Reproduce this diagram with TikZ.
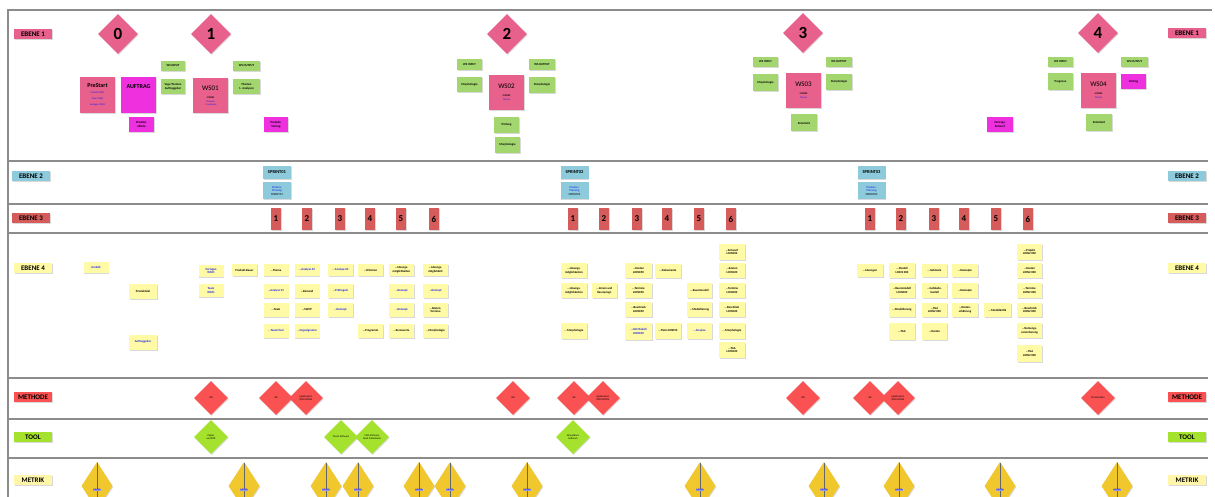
\documentclass[tikz,border=0pt]{standalone}
\usepackage{fontspec}
\setmainfont{Carlito}
\usepackage{tikz}
\usepackage{xcolor}
\usetikzlibrary{shapes}
\usetikzlibrary{shadows}

\definecolor{wspink}{RGB}{232,96,140}
\definecolor{auftragmag}{RGB}{238,48,222}
\definecolor{notegreen}{RGB}{163,214,110}
\definecolor{sprintblue}{RGB}{140,202,220}
\definecolor{taskred}{RGB}{214,92,92}
\definecolor{noteyellow}{RGB}{255,250,165}
\definecolor{methred}{RGB}{250,82,82}
\definecolor{toolgreen}{RGB}{165,226,45}
\definecolor{metrikgold}{RGB}{240,200,45}
\definecolor{metrikpale}{RGB}{255,246,170}
\definecolor{metriktag}{RGB}{150,150,235}
\definecolor{linkblue}{RGB}{30,30,235}
\definecolor{framegray}{RGB}{140,140,140}

\newcommand{\lnk}[1]{\textcolor{linkblue}{#1}}

\begin{document}
\begin{tikzpicture}[x=1pt, y=-1pt,
	every node/.style={inner sep=0pt, align=center},
	shd/.style={drop shadow={shadow xshift=0.8pt, shadow yshift=-1pt, opacity=0.3}},
	sepline/.style={framegray, line width=1.4pt},
	ebene/.style={shd, minimum width=38, minimum height=10, font=\fontsize{7}{8}\selectfont\bfseries},
	phase/.style={diamond, shd, fill=wspink, minimum width=40, minimum height=40, font=\fontsize{17}{17}\selectfont\bfseries},
	wsbox/.style={shd, fill=wspink, minimum width=35, minimum height=35, font=\fontsize{2.5}{3}\selectfont},
	note/.style={shd, minimum width=25, minimum height=14, font=\fontsize{3}{3.6}\selectfont\bfseries},
	gnote/.style={note, fill=notegreen},
	mnote/.style={note, fill=auftragmag},
	ynote/.style={note, fill=noteyellow},
	sprint/.style={shd, fill=sprintblue, minimum width=28, font=\fontsize{4.5}{5}\selectfont\bfseries},
	task/.style={shd, fill=taskred, minimum width=10, minimum height=21, font=\fontsize{9}{8}\selectfont\bfseries},
	meth/.style={diamond, shd, fill=methred, minimum width=34, minimum height=34, font=\fontsize{2.6}{3}\selectfont},
	tool/.style={diamond, shd, fill=toolgreen, minimum width=34, minimum height=34, font=\fontsize{2.6}{3}\selectfont},
	mtag/.style={fill=metriktag, yshift=-4pt, inner sep=0.4pt, font=\fontsize{2.5}{3}\selectfont\bfseries, text=linkblue},
	metrik/.style={diamond, shd, fill=metrikgold, minimum width=31, minimum height=48,
		path picture={\draw[black!60, line width=0.4pt] (path picture bounding box.north) -- (path picture bounding box.south);},
		label={[mtag]center:Metrik}}]
	\useasboundingbox (0,0) rectangle (1215,497);
	% frame and lane lines
	\draw[sepline] (8,497) -- (8,10) -- (1212,10);
	\draw[sepline] (8,161) -- (1208,161);
	\draw[sepline] (8,204) -- (1208,204);
	\draw[sepline] (8,233) -- (1208,233);
	\draw[sepline] (8,378) -- (1208,378);
	\draw[sepline] (8,419) -- (1208,419);
	\draw[sepline] (8,458) -- (1208,458);
	% lane labels
	\node[ebene, fill=wspink] (e1l) at (33,34) {EBENE 1};
	\node[ebene, fill=wspink] (e1r) at (1187,33) {EBENE 1};
	\node[ebene, fill=sprintblue] (e2l) at (31,176) {EBENE 2};
	\node[ebene, fill=sprintblue] (e2r) at (1187,176) {EBENE 2};
	\node[ebene, fill=taskred] (e3l) at (31,218) {EBENE 3};
	\node[ebene, fill=taskred] (e3r) at (1187,218) {EBENE 3};
	\node[ebene, fill=noteyellow] (e4l) at (33,268) {EBENE 4};
	\node[ebene, fill=noteyellow] (e4r) at (1187,268) {EBENE 4};
	\node[ebene, fill=methred] (mel) at (33,397) {METHODE};
	\node[ebene, fill=methred] (mer) at (1187,397) {METHODE};
	\node[ebene, fill=toolgreen] (tol) at (33,437) {TOOL};
	\node[ebene, fill=toolgreen] (tor) at (1187,437) {TOOL};
	\node[ebene, fill=metrikpale] (mtl) at (33,480) {METRIK};
	\node[ebene, fill=metrikpale] (mtr) at (1187,480) {METRIK};
	% ebene 1: phases
	\node[phase] (ph0) at (118,34) {0};
	\node[phase] (ph1) at (211,34) {1};
	\node[phase] (ph2) at (507,34) {2};
	\node[phase] (ph3) at (803,33) {3};
	\node[phase] (ph4) at (1098,33) {4};
	% ebene 1: start and WS01
	\node[wsbox, minimum height=36] (prestart) at (97.5,95) {{\fontsize{6}{7}\selectfont\bfseries PreStart}\\[3pt]\lnk{Umfeld WS01}\\[3pt]\lnk{Team WS01}\\[3pt]\lnk{Vorlagen WS01}};
	\node[wsbox, minimum height=36, fill=auftragmag] (auftrag) at (138.5,95) {{\fontsize{6}{7}\selectfont\bfseries AUFTRAG}\\[14pt]};
	\node[mnote, minimum width=25, minimum height=15] (offerte) at (141.5,124.5) {Produkt-\\offerte};
	\node[gnote, minimum width=24, minimum height=10] (wsin1) at (173,66) {WS INPUT};
	\node[gnote, minimum width=24, minimum height=15] (in1) at (173,86.5) {Vage Themen\\Auftraggeber};
	\node[wsbox] (ws01) at (210.5,95.5) {{\fontsize{7}{8}\selectfont WS01}\\[5pt]\textbf{1 WS01}\\[1pt]\lnk{Themen}\\\lnk{1. Analysen}};
	\node[gnote, minimum width=27, minimum height=10] (wsout1) at (246.5,66) {WS OUTPUT};
	\node[gnote, minimum width=27, minimum height=15] (out1) at (246.5,86.5) {Themen\\1. Analysen};
	\node[mnote, minimum width=24, minimum height=15] (vortrag1) at (276,124.5) {Produkt-\\Vortrag};
	% ebene 1: WS02
	\node[gnote, minimum height=11] (wsin2) at (469.5,64.5) {WS INPUT};
	\node[gnote, minimum height=15] (in2) at (469.5,84.5) {Morphologie};
	\node[wsbox] (ws02) at (506.5,92.5) {{\fontsize{7}{8}\selectfont WS02}\\[5pt]\textbf{2 WS02}\\[1pt]\lnk{Thema}};
	\node[gnote, minimum width=26, minimum height=11] (wsout2) at (542,64.5) {WS OUTPUT};
	\node[gnote, minimum width=26, minimum height=16] (out2) at (542,85) {Morphologie};
	\node[gnote, minimum height=16] (pruef2) at (506.5,125) {Prüfung};
	\node[gnote, minimum height=16] (morph2) at (507.5,145) {Morphologie};
	% ebene 1: WS03
	\node[gnote, minimum height=10] (wsin3) at (765.5,62) {WS INPUT};
	\node[gnote, minimum height=17] (in3) at (765.5,82.5) {Morphologie};
	\node[wsbox] (ws03) at (803.5,90.5) {{\fontsize{7}{8}\selectfont WS03}\\[5pt]\textbf{3 WS03}\\[1pt]\lnk{Thema}};
	\node[gnote, minimum width=26, minimum height=10] (wsout3) at (839,62) {WS OUTPUT};
	\node[gnote, minimum width=26, minimum height=16] (out3) at (839,82) {Morphologie};
	\node[gnote, minimum width=26, minimum height=17] (entsch3) at (804,123) {Entscheid};
	% ebene 1: WS04
	\node[gnote, minimum height=10] (wsin4) at (1060.5,62) {WS INPUT};
	\node[gnote, minimum height=17] (in4) at (1060.5,81.5) {Prognose};
	\node[wsbox] (ws04) at (1098.5,90.5) {{\fontsize{7}{8}\selectfont WS04}\\[5pt]\textbf{4 WS04}\\[1pt]\lnk{Thema}};
	\node[gnote, minimum width=27, minimum height=10] (wsout4) at (1134.5,62) {WS OUTPUT};
	\node[mnote, minimum height=15] (vortrag4) at (1133.5,81.5) {Vortrag};
	\node[gnote, minimum width=26, minimum height=17] (entsch4) at (1099,122.5) {Entscheid};
	\node[mnote, minimum width=26, minimum height=15] (entwurf4) at (1000,124.5) {Vortrags-\\Entwurf};
	% ebene 2: sprints
	\node[sprint, minimum height=13] (sp1) at (277,172.5) {SPRINT01};
	\node[sprint, minimum height=17, font=\fontsize{3}{3.6}\selectfont] (pl1) at (277,191) {\lnk{Prozess-}\\\lnk{Planung}\\SPRINT01};
	\node[sprint, minimum height=13] (sp2) at (574.5,172.5) {SPRINT02};
	\node[sprint, minimum height=17, font=\fontsize{3}{3.6}\selectfont] (pl2) at (574.5,191) {\lnk{Prozess-}\\\lnk{Planung}\\SPRINT02};
	\node[sprint, minimum height=13] (sp3) at (871.5,172.5) {SPRINT03};
	\node[sprint, minimum height=17, font=\fontsize{3}{3.6}\selectfont] (pl3) at (871.5,191) {\lnk{Prozess-}\\\lnk{Planung}\\SPRINT03};
	% ebene 3: six steps per sprint
	\node[task] (t11) at (276,219) {1};
	\node[task] (t12) at (307,219) {2};
	\node[task] (t13) at (340,219) {3};
	\node[task] (t14) at (370,219) {4};
	\node[task] (t15) at (401,219) {5};
	\node[task] (t16) at (434,219) {6};
	\node[task] (t21) at (573,219) {1};
	\node[task] (t22) at (604,219) {2};
	\node[task] (t23) at (637,219) {3};
	\node[task] (t24) at (667,219) {4};
	\node[task] (t25) at (699,219) {5};
	\node[task] (t26) at (731,219) {6};
	\node[task] (t31) at (870,219) {1};
	\node[task] (t32) at (901,219) {2};
	\node[task] (t33) at (934,219) {3};
	\node[task] (t34) at (964,219) {4};
	\node[task] (t35) at (996,219) {5};
	\node[task] (t36) at (1028,219) {6};
	% ebene 4: before sprint 1
	\node[ynote, minimum height=11] (s0a) at (96,267) {\lnk{Umfeld}};
	\node[ynote, minimum width=28, minimum height=15] (s0b) at (143,291) {Produktziel};
	\node[ynote, minimum width=28, minimum height=15] (s0c) at (143,342) {\lnk{Auftraggeber}};
	\node[ynote, minimum height=12] (s0d) at (211,271) {\lnk{Vorlagen}\\\lnk{WS01}};
	\node[ynote, minimum height=13] (s0e) at (211,290.5) {\lnk{Team}\\\lnk{WS01}};
	\node[ynote, minimum height=12] (s0f) at (244.5,270) {Produkt-Bauer};
	% ebene 4: sprint 1
	\node[ynote, minimum height=12] (s1a1) at (276,270) {...Thema};
	\node[ynote] (s1a2) at (276,291) {\lnk{...Analyse 01}};
	\node[ynote] (s1a3) at (276,310) {...Team};
	\node[ynote] (s1a4) at (276,331) {\lnk{...Team/Tool}};
	\node[ynote, minimum height=12] (s1b1) at (307,270) {\lnk{...Analyse 02}};
	\node[ynote] (s1b2) at (307,291) {...Bestand};
	\node[ynote] (s1b3) at (307,310) {...SWOT};
	\node[ynote] (s1b4) at (307,331) {\lnk{...Organigramm}};
	\node[ynote, minimum height=12] (s1c1) at (340.5,270) {\lnk{...Analyse 03}};
	\node[ynote] (s1c2) at (340.5,291) {\lnk{...Prüfregeln}};
	\node[ynote] (s1c3) at (340.5,310) {\lnk{...Konzept}};
	\node[ynote, minimum height=12] (s1d1) at (370.5,270) {...Kriterien};
	\node[ynote] (s1d4) at (370.5,331) {...Programm};
	\node[ynote, minimum height=12] (s1e1) at (401.5,270) {...Lösungs-\\möglichkeiten};
	\node[ynote] (s1e2) at (401.5,291) {\lnk{...Konzept}};
	\node[ynote] (s1e3) at (401.5,310) {\lnk{...Konzept}};
	\node[ynote] (s1e4) at (401.5,331) {...Kennwerte};
	\node[ynote, minimum height=12] (s1f1) at (435.5,270) {...Lösungs-\\möglichkeit};
	\node[ynote] (s1f2) at (435.5,291) {\lnk{...Konzept}};
	\node[ynote] (s1f3) at (435.5,310) {...Kosten-\\Termine};
	\node[ynote] (s1f4) at (435.5,331) {...Morphologie};
	% ebene 4: sprint 2
	\node[ynote, minimum width=26, minimum height=15] (s2a1) at (574,270.5) {...Lösungs-\\möglichkeiten};
	\node[ynote, minimum width=26, minimum height=15] (s2a2) at (574,290.5) {...Lösungs-\\möglichkeiten};
	\node[ynote, minimum width=26, minimum height=16] (s2a4) at (574,331) {...Morphologie};
	\node[ynote, minimum height=15] (s2b2) at (604.5,290.5) {...Zonen und\\Raumprogr.};
	\node[ynote, minimum width=27, minimum height=15] (s2c1) at (638.5,270.5) {...Kosten\\LOIN050};
	\node[ynote, minimum width=27, minimum height=15] (s2c2) at (638.5,290.5) {...Termine\\LOIN050};
	\node[ynote, minimum width=27, minimum height=15] (s2c3) at (638.5,309.5) {...Beschrieb\\LOIN050};
	\node[ynote, minimum width=27, minimum height=17] (s2c4) at (638.5,331.5) {\lnk{...LOI Modell}\\\lnk{LOIN050}};
	\node[ynote, minimum width=26] (s2d1) at (668,270.5) {...Dokumente};
	\node[ynote, minimum width=26, minimum height=16] (s2d4) at (668,331) {...TGA LOIN050};
	\node[ynote, minimum width=25, minimum height=15] (s2e2) at (699.5,290.5) {...Raummodell};
	\node[ynote, minimum width=25, minimum height=15] (s2e3) at (699.5,309.5) {...Modellierung};
	\node[ynote, minimum width=25, minimum height=16] (s2e4) at (699.5,331) {\lnk{...Analyse}};
	\node[ynote, minimum width=26, minimum height=16] (s2f0) at (732,252) {...Entwurf\\LOIN100};
	\node[ynote, minimum width=26, minimum height=15] (s2f1) at (732,270.5) {...Kosten\\LOIN100};
	\node[ynote, minimum width=26, minimum height=15] (s2f2) at (732,290.5) {...Termine\\LOIN100};
	\node[ynote, minimum width=26, minimum height=15] (s2f3) at (732,309.5) {...Beschrieb\\LOIN100};
	\node[ynote, minimum width=26, minimum height=16] (s2f4) at (732,331) {...Morphologie};
	\node[ynote, minimum width=26, minimum height=16] (s2f5) at (732,350) {...TGA\\LOIN100};
	% ebene 4: sprint 3
	\node[ynote, minimum width=26, minimum height=13] (s3a1) at (870,270.5) {...Lösungen};
	\node[ynote, minimum width=26, minimum height=15] (s3b1) at (902,270.5) {...Modell\\LOIN2 000};
	\node[ynote, minimum width=26, minimum height=15] (s3b2) at (902,290.5) {...Raummodell\\LOIN300};
	\node[ynote, minimum width=26, minimum height=14] (s3b3) at (902,310) {...Modellierung};
	\node[ynote, minimum width=26, minimum height=17] (s3b4) at (902,331.5) {...TGA};
	\node[ynote, minimum width=25, minimum height=13] (s3c1) at (934.5,270.5) {...Gebäude};
	\node[ynote, minimum width=25, minimum height=15] (s3c2) at (934.5,290.5) {...Gebäude-\\modell};
	\node[ynote, minimum width=25, minimum height=14] (s3c3) at (934.5,310) {...TGA\\LOIN2 000};
	\node[ynote, minimum width=25, minimum height=17] (s3c4) at (934.5,331.5) {...Kosten};
	\node[ynote, minimum width=26, minimum height=13] (s3d1) at (965,270.5) {...Konzepte};
	\node[ynote, minimum width=26, minimum height=15] (s3d2) at (965,290.5) {...Konzepte};
	\node[ynote, minimum width=26, minimum height=14] (s3d3) at (965,310) {...Kosten-\\schätzung};
	\node[ynote, minimum width=27, minimum height=14] (s3e3) at (997.5,310) {...Modellkritik};
	\node[ynote, minimum width=25, minimum height=16] (s3f0) at (1029.5,252) {...Projekt\\LOIN2 000};
	\node[ynote, minimum width=25, minimum height=15] (s3f1) at (1029.5,270.5) {...Kosten\\LOIN2 000};
	\node[ynote, minimum width=25, minimum height=15] (s3f2) at (1029.5,290.5) {...Termine\\LOIN2 000};
	\node[ynote, minimum width=25, minimum height=14] (s3f3) at (1029.5,310) {...Beschrieb\\LOIN2 000};
	\node[ynote, minimum width=25, minimum height=15] (s3f4) at (1029.5,330.5) {...Nutzungs-\\vereinbarung};
	\node[ynote, minimum width=25, minimum height=17] (s3f5) at (1029.5,353.5) {...TGA\\LOIN2 000};
	% methode
	\node[meth] (me1) at (211,398) {WS};
	\node[meth] (me2) at (276,398) {ICE};
	\node[meth] (me3) at (306,398) {Agilebrainst.\\IDEO BOOM};
	\node[meth] (me4) at (513,398) {WS};
	\node[meth] (me5) at (574,398) {ICE};
	\node[meth] (me6) at (603,398) {Agilebrainst.\\IDEO BOOM};
	\node[meth] (me7) at (803,398) {WS};
	\node[meth] (me8) at (870,398) {ICE};
	\node[meth] (me9) at (898,398) {Agilebrainst.\\IDEO BOOM};
	\node[meth] (me10) at (1098,398) {Präsentation};
	% tool
	\node[tool] (to1) at (211,437) {Papier\\und Stift};
	\node[tool] (to2) at (341,437) {Check Software};
	\node[tool] (to3) at (372,437) {CAD-Software\\Revit Datenbank};
	\node[tool] (to4) at (573,437) {Simulations\\Software};
	% metrik
	\node[metrik] (mk1) at (97,486) {};
	\node[metrik] (mk2) at (244,486) {};
	\node[metrik] (mk3) at (326,486) {};
	\node[metrik] (mk4) at (358,486) {};
	\node[metrik] (mk5) at (419,486) {};
	\node[metrik] (mk6) at (450,486) {};
	\node[metrik] (mk7) at (527,486) {};
	\node[metrik] (mk8) at (700,486) {};
	\node[metrik] (mk9) at (824,486) {};
	\node[metrik] (mk10) at (899,486) {};
	\node[metrik] (mk11) at (1000,486) {};
	\node[metrik] (mk12) at (1117,486) {};
\end{tikzpicture}
\end{document}
